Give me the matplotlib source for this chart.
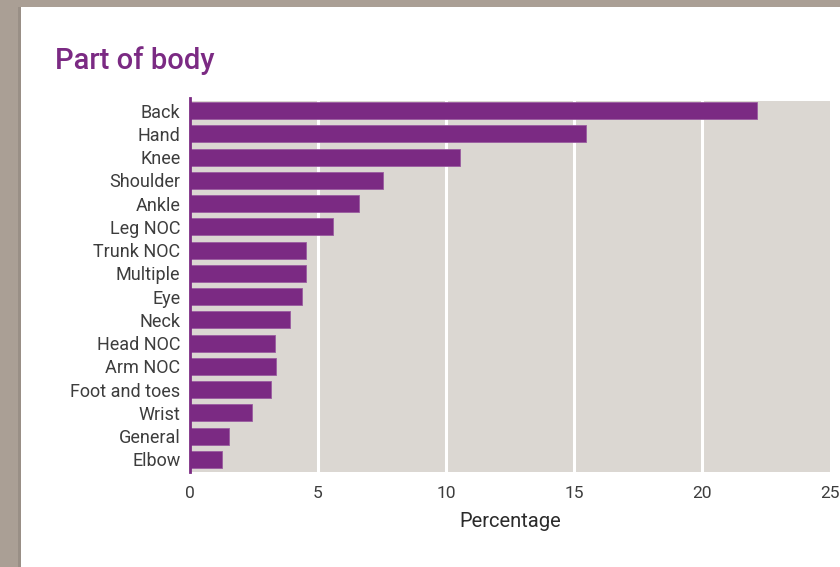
"""
Part of body - horizontal bar chart
"""

import matplotlib.pyplot as plt
from matplotlib.patches import Rectangle
import numpy as np

plt.rcParams['font.family'] = ['Roboto', 'DejaVu Sans']

parts = ["Back", "Hand", "Knee", "Shoulder", "Ankle", "Leg NOC", "Trunk NOC",
         "Multiple", "Eye", "Neck", "Head NOC", "Arm NOC", "Foot and toes",
         "Wrist", "General", "Elbow"]
percent = [22.15, 15.45, 10.55, 7.52, 6.6, 5.6, 4.54,
           4.54, 4.37, 3.89, 3.31, 3.35, 3.15,
           2.41, 1.51, 1.24]
xticks = [0, 5, 10, 15, 20, 25]

purple = "#7b2a83"
edge = "#9a5ca0"
panel = "#dbd7d2"
border = "#aa9f95"
txtcol = "#3d3d3d"

fig = plt.figure(figsize=(8.4, 5.67), dpi=100)
fig.patch.set_facecolor("white")

# grey frame around the page (top band and left band)
fig.patches.append(Rectangle((0, 1 - 7 / 567), 1, 7 / 567, transform=fig.transFigure,
                             facecolor=border, edgecolor="none", zorder=0))
fig.patches.append(Rectangle((0, 0), 21 / 840, 1, transform=fig.transFigure,
                             facecolor=border, edgecolor="none", zorder=0))
fig.patches.append(Rectangle((18 / 840, 0), 3 / 840, 1 - 7 / 567, transform=fig.transFigure,
                             facecolor="#8f857c", edgecolor="none", zorder=0, alpha=0.6))

ax = fig.add_axes([190 / 840, 95 / 567, 640 / 840, 371 / 567])
ax.set_facecolor(panel)

y = np.arange(len(parts))
ax.barh(y, percent, height=0.73, color=purple, edgecolor=edge, linewidth=0.6, zorder=3)

ax.set_xlim(0, 25)
ax.set_ylim(15.54, -0.41)

ax.set_xticks(xticks)
ax.set_xticklabels([str(t) for t in xticks])
ax.set_yticks(y)
ax.set_yticklabels(parts)
ax.tick_params(axis="both", length=0, labelsize=12.5, colors=txtcol)
ax.tick_params(axis="y", labelsize=13, pad=7)
ax.tick_params(axis="x", pad=10)

for gx in xticks[1:-1]:
    ax.axvline(gx, color="white", linewidth=2.2, zorder=2)

for s in ["top", "right", "bottom", "left"]:
    ax.spines[s].set_visible(False)
ax.plot([0, 0], [-0.55, 15.54], color=purple, linewidth=2, clip_on=False, zorder=4)

ax.set_xlabel("Percentage", fontsize=14.5, color="#2b2b2b", labelpad=8)

fig.text(55 / 840, 1 - 61 / 567, "Part of body", fontsize=21, fontweight="medium",
         color="#7b2a83", ha="left", va="center")

fig.savefig("out.png", dpi=100)
